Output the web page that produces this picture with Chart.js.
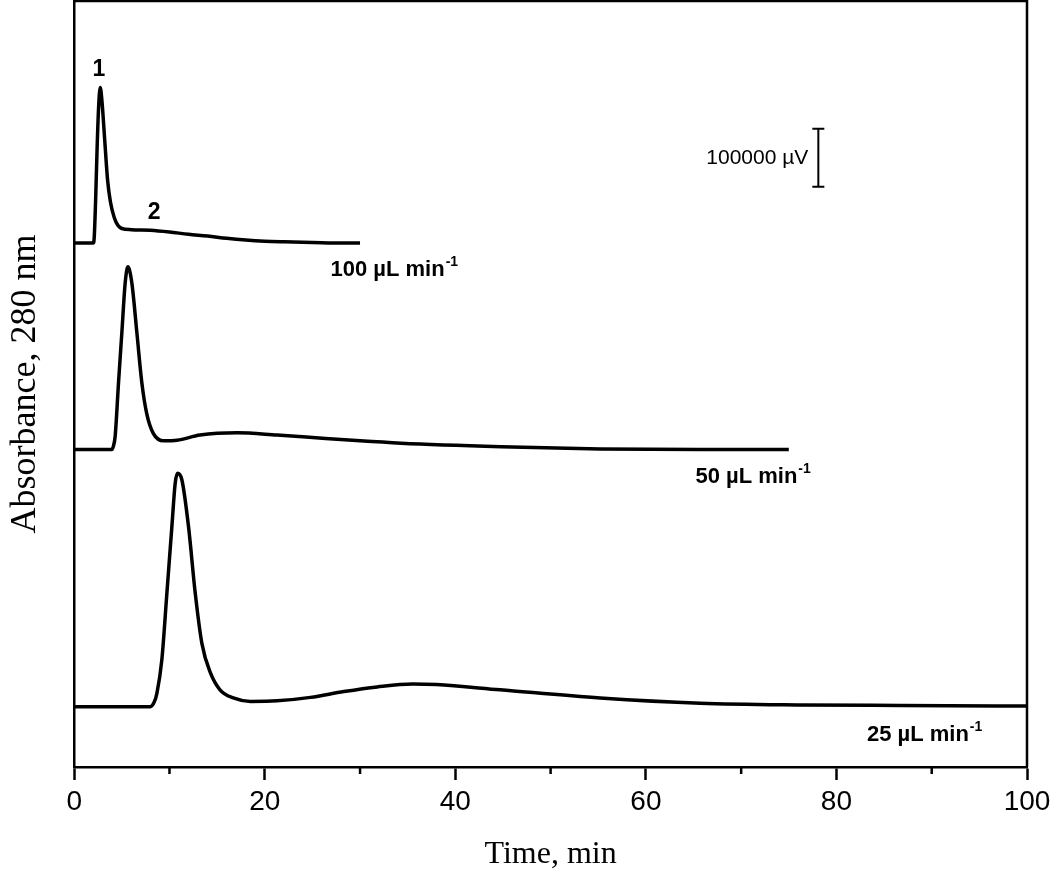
<!DOCTYPE html>
<html>
<head>
<meta charset="utf-8">
<script src="https://cdn.jsdelivr.net/npm/chart.js@4.4.1/dist/chart.umd.min.js"></script>
<style>
  body { margin: 0; background: #fff; }
  #wrap { width: 1050px; height: 875px; }
</style>
</head>
<body>
<div id="wrap"><canvas id="chromChart" width="1050" height="875"></canvas></div>
<script>
// chromatograms, time in min, signal in units of 1000 µV (traces stacked as in the figure)
var time100 = [0, 2.0, 2.1, 2.25, 2.4, 2.55, 2.73, 2.9, 3.2, 3.5, 3.8, 4.2, 4.6, 5.0, 6, 8, 10, 12, 14, 16, 18, 20, 22, 25, 28, 30];
var abs100  = [903, 903, 912, 978, 1064, 1133, 1171, 1150, 1081, 1012, 974, 947, 933, 928, 926, 925, 922, 918, 915, 911, 908, 906, 905, 904, 903, 903];

var time50 = [0, 3.95, 4.1, 4.3, 4.65, 5.0, 5.35, 5.63, 6.05, 6.58, 7.1, 7.6, 8.3, 9.4, 10.8, 13.2, 17.1, 21.3, 24, 30, 34.3, 44.8, 55.2, 65.7, 75];
var abs50  = [547, 547, 552, 570, 662, 748, 834, 862, 834, 748, 662, 610, 575, 562, 563, 572, 576, 572, 569, 562, 558, 552, 548, 547, 547];

var time25 = [0, 7.97, 8.4, 8.68, 9.2, 9.73, 10.25, 10.6, 10.84, 11.3, 12.0, 12.7, 13.4, 14.3, 15.3, 16.7, 18.5, 21.3, 24.8, 28.3, 31.8, 35.5, 38, 44.7, 55.2, 65.7, 76.2, 86.7, 100];
var abs25  = [104, 104, 112, 127, 185, 300, 414, 489, 506, 495, 414, 300, 213, 162, 133, 119, 113, 114, 120, 130, 138, 143, 142, 133, 119, 110, 107, 106, 105];

var majorTicks = [0, 20, 40, 60, 80, 100];
var minorTicks = [10, 30, 50, 70, 90];

// text labels: [text, superscript, time, signal]
var flowLabels = [
  ['100 µL min', '-1', 26.9, 857],
  ['50 µL min', '-1', 65.2, 500],
  ['25 µL min', '-1', 83.2, 55]
];
var peakLabels = [['1', 2.6, 1202], ['2', 8.4, 955]];
var scaleBar = { time: 78.1, from: 1000, to: 1100, text: '100000 µV' };

function pts(t, v) {
  return t.map(function (x, i) { return { x: x, y: v[i] }; });
}

var sans = '"Liberation Sans", Arial, sans-serif';
var serif = '"Liberation Serif", "Times New Roman", serif';

var extras = {
  id: 'extras',
  afterDraw: function (chart) {
    var ctx = chart.ctx, a = chart.chartArea;
    var xs = chart.scales.x, ys = chart.scales.y;
    ctx.save();
    ctx.strokeStyle = '#000';
    ctx.lineWidth = 2.5;
    // top and right of the box
    ctx.beginPath();
    ctx.moveTo(a.left, a.top);
    ctx.lineTo(a.right, a.top);
    ctx.lineTo(a.right, a.bottom);
    ctx.stroke();
    // minor ticks
    minorTicks.forEach(function (v) {
      var x = xs.getPixelForValue(v);
      ctx.beginPath();
      ctx.moveTo(x, a.bottom);
      ctx.lineTo(x, a.bottom + 7);
      ctx.stroke();
    });

    // scale bar
    var bx = xs.getPixelForValue(scaleBar.time);
    var y1 = ys.getPixelForValue(scaleBar.from), y2 = ys.getPixelForValue(scaleBar.to);
    ctx.lineWidth = 2;
    ctx.beginPath();
    ctx.moveTo(bx, y1); ctx.lineTo(bx, y2);
    ctx.moveTo(bx - 6, y1); ctx.lineTo(bx + 6, y1);
    ctx.moveTo(bx - 6, y2); ctx.lineTo(bx + 6, y2);
    ctx.stroke();
    ctx.fillStyle = '#000';
    ctx.font = '21px ' + sans;
    ctx.textAlign = 'right';
    ctx.textBaseline = 'middle';
    ctx.fillText(scaleBar.text, bx - 10, (y1 + y2) / 2 + 1);

    // flow-rate labels
    flowLabels.forEach(function (l) {
      var x = xs.getPixelForValue(l[2]), y = ys.getPixelForValue(l[3]);
      ctx.font = 'bold 22px ' + sans;
      ctx.textAlign = 'left';
      ctx.textBaseline = 'middle';
      ctx.fillText(l[0], x, y);
      var w = ctx.measureText(l[0]).width;
      ctx.font = 'bold 14px ' + sans;
      ctx.fillText(l[1], x + w + 1, y - 8);
    });

    // peak numbers
    ctx.font = 'bold 23px ' + sans;
    ctx.textAlign = 'center';
    peakLabels.forEach(function (l) {
      ctx.fillText(l[0], xs.getPixelForValue(l[1]), ys.getPixelForValue(l[2]));
    });
    ctx.restore();
  }
};

function trace(t, v) {
  return {
    data: pts(t, v),
    borderColor: '#000',
    borderWidth: 3.5,
    pointRadius: 0,
    fill: false,
    cubicInterpolationMode: 'monotone'
  };
}

var chart = new Chart(document.getElementById('chromChart'), {
  type: 'line',
  data: {
    datasets: [trace(time100, abs100), trace(time50, abs50), trace(time25, abs25)]
  },
  options: {
    responsive: false,
    animation: false,
    layout: { padding: { top: 1, left: 0, right: 0, bottom: 0 } },
    plugins: { legend: { display: false }, tooltip: { enabled: false } },
    scales: {
      x: {
        type: 'linear',
        min: 0,
        max: 100,
        afterBuildTicks: function (s) { s.ticks = majorTicks.map(function (v) { return { value: v }; }); },
        afterFit: function (s) { s.paddingRight = 23; },
        ticks: { color: '#000', padding: 5, font: { size: 28, family: sans } },
        grid: { drawOnChartArea: false, tickLength: 13, tickWidth: 2.5, tickColor: '#000' },
        border: { color: '#000', width: 2.5 },
        title: { display: true, text: 'Time, min', color: '#000', font: { size: 32, family: serif }, padding: { top: 12, bottom: 1 } }
      },
      y: {
        min: 0,
        max: 1320,
        ticks: { display: false },
        grid: { display: false, drawTicks: false },
        border: { color: '#000', width: 2.5 },
        title: { display: true, text: 'Absorbance, 280 nm', color: '#000', font: { size: 36, family: serif }, padding: { top: 4, bottom: 27 } }
      }
    }
  },
  plugins: [extras]
});
</script>
</body>
</html>
